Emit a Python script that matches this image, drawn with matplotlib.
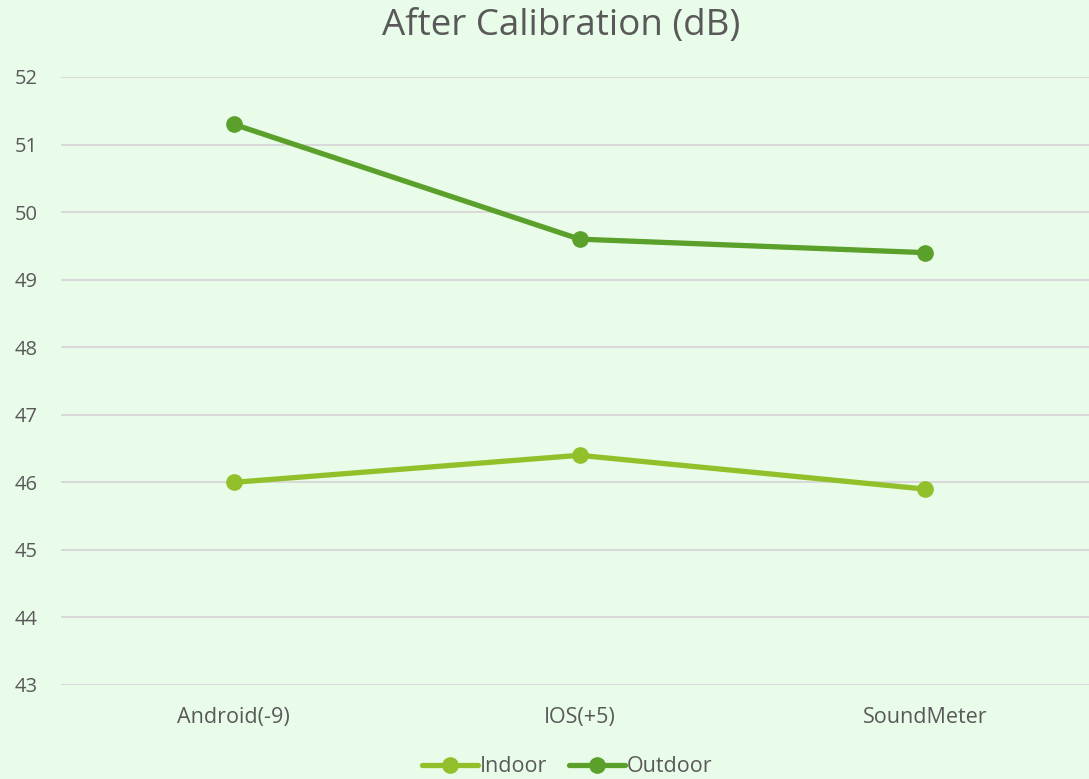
import matplotlib.pyplot as plt

categories = ['Android(-9)', 'IOS(+5)', 'SoundMeter']
indoor = [46.0, 46.4, 45.9]
outdoor = [51.3, 49.6, 49.4]
y_ticks = [43, 44, 45, 46, 47, 48, 49, 50, 51, 52]

bg = '#E9FCE9'
text_color = '#595959'
indoor_color = '#92C02B'
outdoor_color = '#5AA02A'

plt.rcParams['font.family'] = ['Open Sans', 'DejaVu Sans']

fig = plt.figure(figsize=(10.89, 7.79), dpi=100, facecolor=bg)
ax = fig.add_axes([61 / 1089, 94 / 779, 1037 / 1089, 608 / 779])
ax.set_facecolor(bg)

x = range(len(categories))
ax.plot(x, indoor, color=indoor_color, lw=3.8, marker='o', ms=11, label='Indoor',
        solid_capstyle='round', zorder=3, clip_on=False)
ax.plot(x, outdoor, color=outdoor_color, lw=3.8, marker='o', ms=11, label='Outdoor',
        solid_capstyle='round', zorder=3, clip_on=False)

ax.set_xlim(-0.5, 2.5)
ax.set_ylim(43, 52)
ax.set_yticks(y_ticks)
ax.set_xticks(list(x))
ax.set_xticklabels(categories)
ax.grid(axis='y', color='#D9D9D9', lw=1.5)
ax.set_axisbelow(True)
for s in ax.spines.values():
    s.set_visible(False)
ax.tick_params(length=0, colors=text_color)
ax.tick_params(axis='x', labelsize=15.5, pad=16)
ax.tick_params(axis='y', labelsize=14.5, pad=17)

fig.text(0.515, 0.967, 'After Calibration (dB)', ha='center', va='center',
         fontsize=26.5, color=text_color)

fig.legend(loc='center', bbox_to_anchor=(0.521, 0.016), ncol=2, frameon=False,
           fontsize=15.5, labelcolor=text_color, handlelength=2.6, handletextpad=0.1,
           columnspacing=1.0)

fig.savefig('out.png', dpi=100, facecolor=bg)
